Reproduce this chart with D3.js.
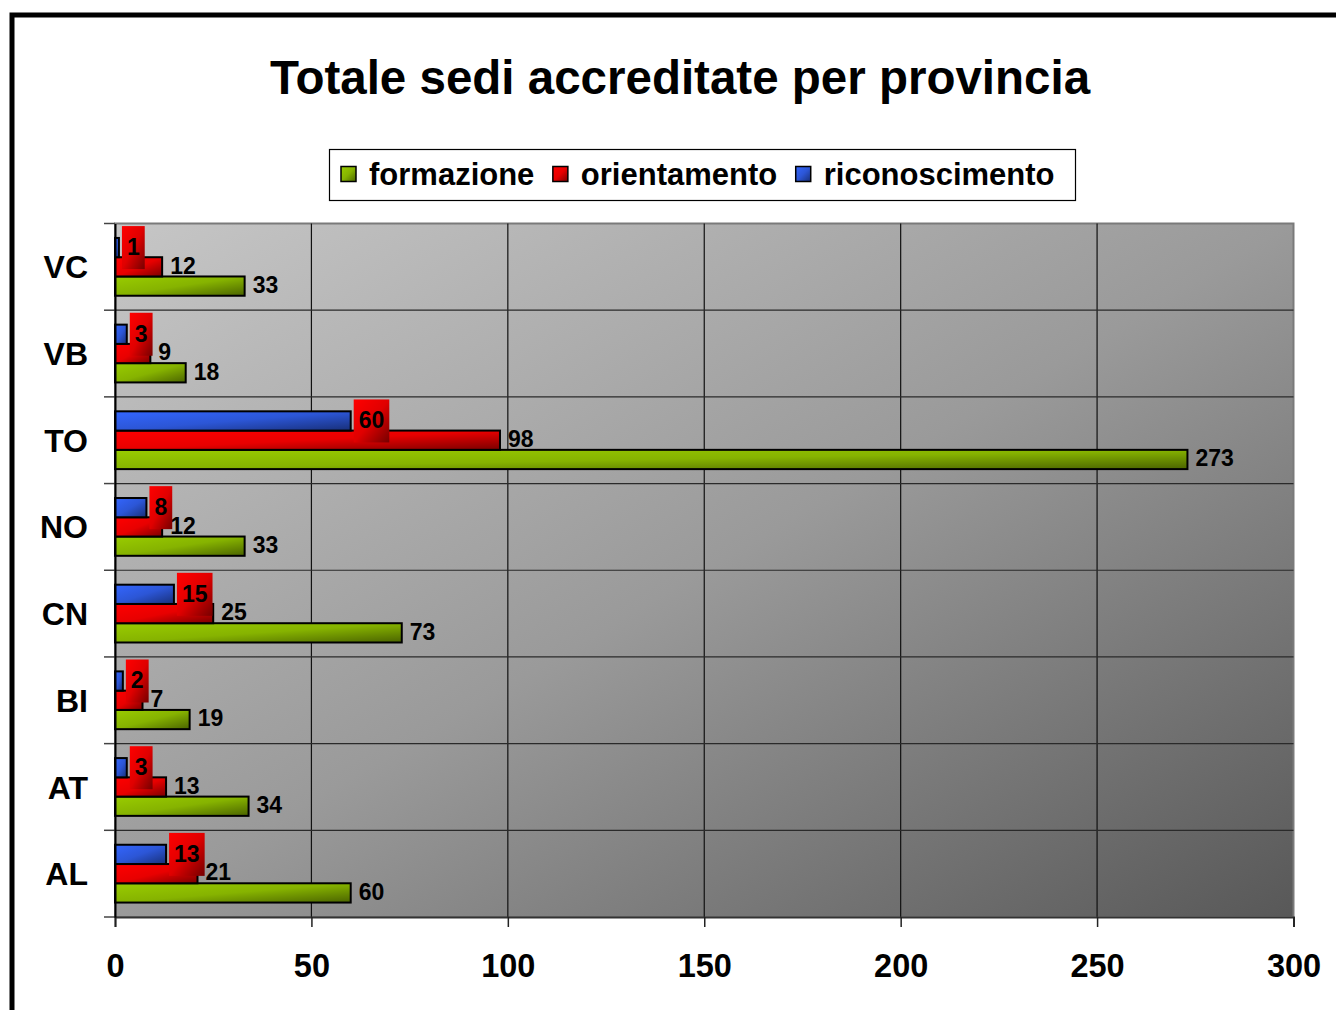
<!DOCTYPE html>
<html>
<head>
<meta charset="utf-8">
<script src="https://cdn.jsdelivr.net/npm/d3@7"></script>
<style>
  html, body { margin: 0; padding: 0; background: #fff; }
  svg { display: block; }
  text { font-family: "Liberation Sans", Arial, sans-serif; font-weight: bold; fill: #000; }
</style>
</head>
<body>
<svg id="chart" width="1336" height="1010"></svg>
<script>
// ---- data ----
const categories = ["AL", "AT", "BI", "CN", "NO", "TO", "VB", "VC"];
const formazione = [60, 34, 19, 73, 33, 273, 18, 33];
const orientamento = [21, 13, 7, 25, 12, 98, 9, 12];
const riconoscimento = [13, 3, 2, 15, 8, 60, 3, 1];
const seriesNames = ["formazione", "orientamento", "riconoscimento"];
const xTicks = [0, 50, 100, 150, 200, 250, 300];
const titleText = "Totale sedi accreditate per provincia";

const seriesValues = { formazione, orientamento, riconoscimento };
const seriesColors = {
  formazione: ["#99cc00", "#86b300", "#4b6400"],
  orientamento: ["#ff0000", "#e80000", "#7a0000"],
  riconoscimento: ["#3366ff", "#2c56d6", "#182f78"]
};

const svg = d3.select("#chart");
const defs = svg.append("defs");

function diagGrad(id, stops) {
  const g = defs.append("linearGradient").attr("id", id)
    .attr("x1", 0).attr("y1", 0).attr("x2", 1).attr("y2", 1);
  stops.forEach((c, i) => g.append("stop").attr("offset", i / (stops.length - 1)).attr("stop-color", c));
}
seriesNames.forEach(s => diagGrad("g-" + s, seriesColors[s]));
diagGrad("g-plot", ["#c6c6c6", "#9a9a9a", "#585858"]);
diagGrad("g-box", ["#ff0000", "#e00000", "#750000"]);

// ---- outer frame ----
svg.append("rect").attr("x", 12).attr("y", 15).attr("width", 1400).attr("height", 1100)
  .attr("fill", "none").attr("stroke", "#000").attr("stroke-width", 5);

// ---- title ----
svg.append("text").attr("x", 680).attr("y", 94).attr("text-anchor", "middle")
  .style("font-size", "47.5px").text(titleText);

// ---- scales ----
const pLeft = 115, pRight = 1293.5, pTop = 223.5, pBottom = 917;
const x = d3.scaleLinear().domain([0, 300]).range([pLeft, pRight]);
const y = d3.scaleBand().domain(categories.slice().reverse()).range([pTop, pBottom]).padding(0);
const ys = d3.scaleBand().domain(["riconoscimento", "orientamento", "formazione"])
  .range([0, y.bandwidth()]).paddingInner(0).paddingOuter(0.75);

// ---- plot background ----
svg.append("rect").attr("x", pLeft).attr("y", pTop).attr("width", pRight - pLeft).attr("height", pBottom - pTop)
  .attr("fill", "url(#g-plot)").attr("stroke", "#7a7a7a").attr("stroke-width", 2);

// vertical gridlines
svg.append("g").selectAll("line").data(xTicks.filter(t => t > 0 && t < 300)).join("line")
  .attr("x1", d => x(d)).attr("x2", d => x(d)).attr("y1", pTop).attr("y2", pBottom)
  .attr("stroke", "#111").attr("stroke-width", 1.2);

// horizontal gridlines at category boundaries
const bounds = d3.range(categories.length + 1).map(i => pTop + i * y.step());
svg.append("g").selectAll("line").data(bounds.slice(1, -1)).join("line")
  .attr("x1", pLeft).attr("x2", pRight).attr("y1", d => d).attr("y2", d => d)
  .attr("stroke", "#2a2a2a").attr("stroke-width", 1.2);

// left boundary ticks
svg.append("g").selectAll("line").data(bounds).join("line")
  .attr("x1", 104).attr("x2", pLeft).attr("y1", d => d).attr("y2", d => d)
  .attr("stroke", "#444").attr("stroke-width", 1.5);

// ---- bars ----
const groups = svg.append("g").selectAll("g").data(categories).join("g")
  .attr("transform", d => `translate(0,${y(d)})`);

seriesNames.forEach(s => {
  groups.append("rect")
    .attr("x", pLeft)
    .attr("y", () => ys(s))
    .attr("width", (d, i) => x(seriesValues[s][i]) - pLeft)
    .attr("height", ys.bandwidth())
    .attr("fill", `url(#g-${s})`)
    .attr("stroke", "#000").attr("stroke-width", 2);
});

// ---- axes ----
const xAxis = d3.axisBottom(x).tickValues(xTicks).tickSize(10).tickPadding(27).tickFormat(d3.format("d"));
const gx = svg.append("g").attr("transform", `translate(0,${pBottom})`).call(xAxis);
gx.select(".domain").attr("stroke", "#333").attr("stroke-width", 2);
gx.selectAll(".tick line").attr("stroke", "#222").attr("stroke-width", 1.5);
gx.selectAll(".tick text").style("font-size", "32.5px").attr("fill", "#000");

const yAxis = d3.axisLeft(y).tickSize(0).tickPadding(27);
const gy = svg.append("g").attr("transform", `translate(${pLeft},0)`).call(yAxis);
gy.select(".domain").attr("stroke", "#000").attr("stroke-width", 2);
gy.selectAll(".tick text").style("font-size", "32px").attr("dy", "0.36em").attr("fill", "#000");

// ---- value labels ----
["orientamento", "formazione"].forEach(s => {
  groups.append("text")
    .attr("x", (d, i) => x(seriesValues[s][i]) + 8)
    .attr("y", ys(s) + ys.bandwidth() / 2 - 1.5)
    .attr("dy", "0.36em")
    .style("font-size", "23px")
    .text((d, i) => seriesValues[s][i]);
});

// riconoscimento labels on red boxes
groups.each(function (d, i) {
  const g = d3.select(this);
  const v = riconoscimento[i];
  const cy = ys("riconoscimento") + ys.bandwidth() / 2;
  const bx = x(v) + 3;
  const box = g.append("rect").attr("fill", "url(#g-box)");
  const t = g.append("text").attr("x", bx + 5).attr("y", cy - 1).attr("dy", "0.36em")
    .style("font-size", "23px").text(v);
  const w = t.node().getComputedTextLength();
  box.attr("x", bx).attr("y", cy - 21.5).attr("width", w + 10).attr("height", 43);
});

// ---- legend ----
const lg = svg.append("g");
lg.append("rect").attr("x", 329.5).attr("y", 149.5).attr("width", 746).attr("height", 51)
  .attr("fill", "#fff").attr("stroke", "#000").attr("stroke-width", 1.2);
let lx = 341;
seriesNames.forEach(s => {
  lg.append("rect").attr("x", lx).attr("y", 166.5).attr("width", 15).attr("height", 15)
    .attr("fill", `url(#g-${s})`).attr("stroke", "#000").attr("stroke-width", 1.5);
  const t = lg.append("text").attr("x", lx + 28).attr("y", 174).attr("dy", "0.36em")
    .style("font-size", "31px").text(s);
  lx += 28 + t.node().getComputedTextLength() + 18.5;
});
</script>
</body>
</html>
